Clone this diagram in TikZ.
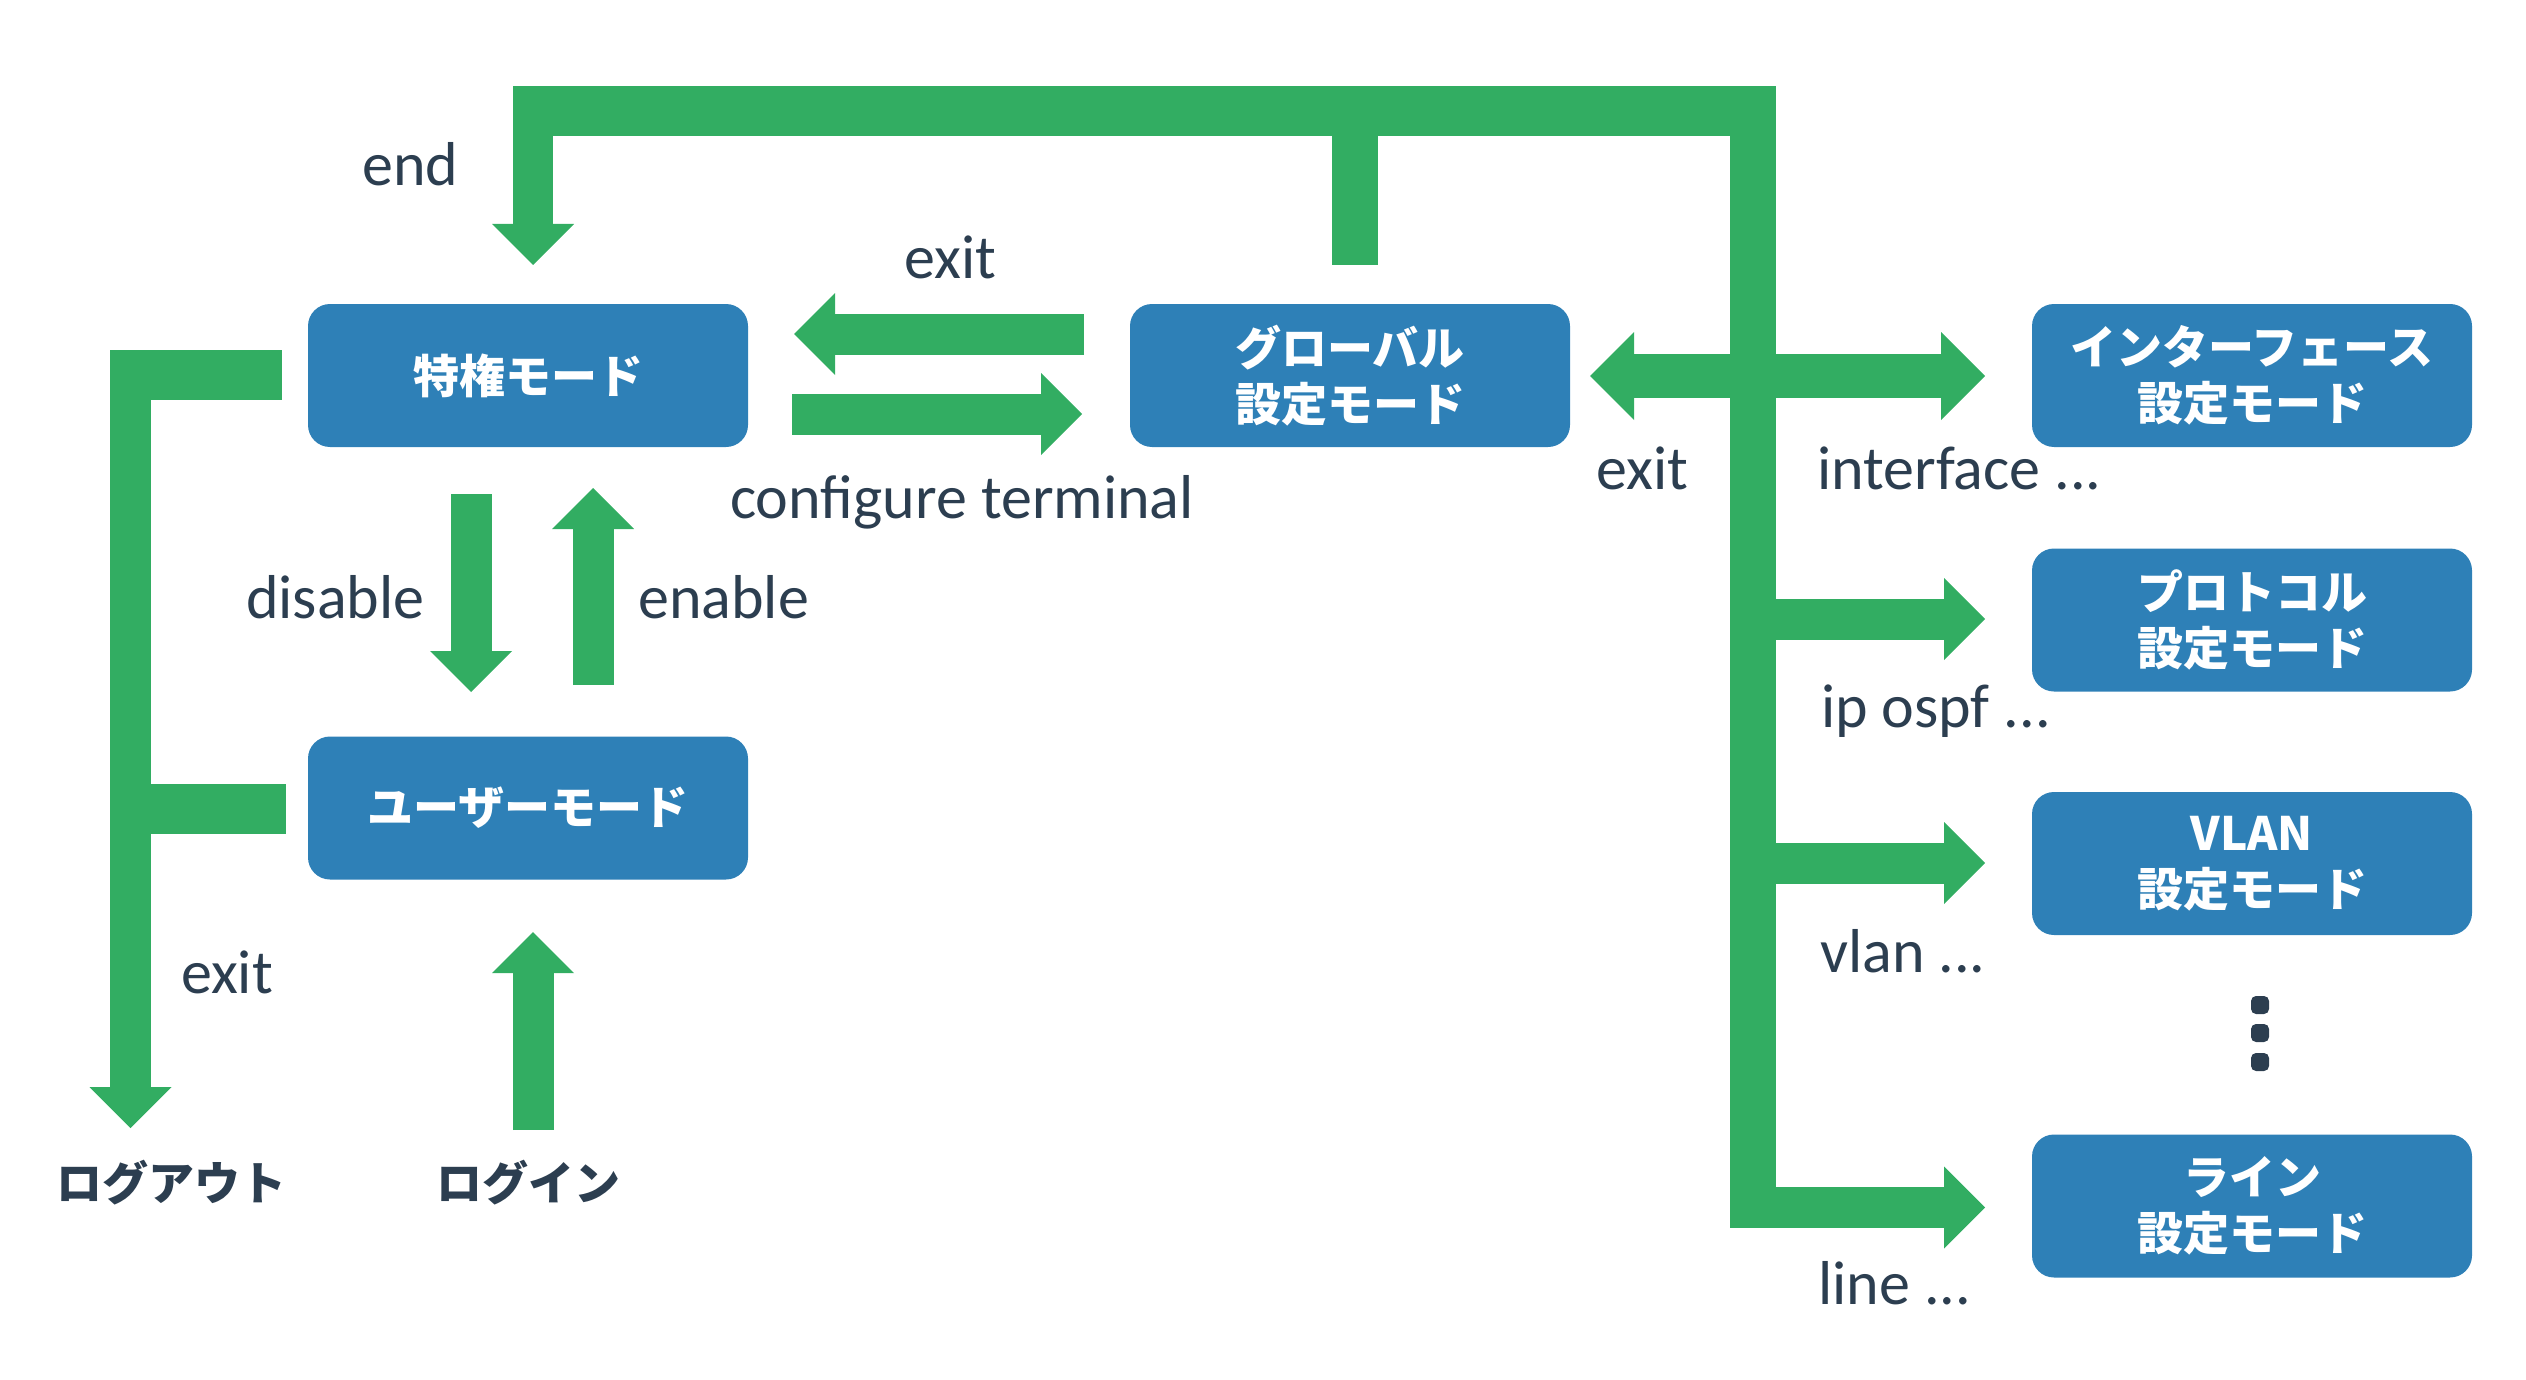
\documentclass[tikz,border=0pt]{standalone}
\usepackage{fontspec}
\setmainfont{Carlito}
\newfontfamily\jp{Noto Sans CJK JP}
\usetikzlibrary{arrows.meta}
\definecolor{grn}{RGB}{50,173,98}
\definecolor{blu}{RGB}{46,128,183}
\definecolor{txt}{RGB}{44,62,80}
\begin{document}
\begin{tikzpicture}[x=1pt,y=-1pt,
  modebox/.style={fill=blu, rounded corners=22pt, minimum width=440pt, minimum height=143pt,
    inner sep=0pt, text=white, align=center, font=\jp\bfseries\fontsize{46}{56}\selectfont},
  cmd/.style={anchor=base west, inner sep=0pt, text=txt, font=\fontsize{62}{74}\selectfont},
  jlabel/.style={inner sep=0pt, text=txt, font=\jp\bfseries\fontsize{46}{56}\selectfont},
  flow/.style={draw=grn, line width=41pt, -{Triangle[length=41pt,width=82pt,line width=0pt]}},
  dflow/.style={draw=grn, line width=44pt, {Triangle[length=44pt,width=88pt,line width=0pt]}-{Triangle[length=44pt,width=88pt,line width=0pt]}},
  bar/.style={fill=grn},
  dot/.style={fill=txt, rounded corners=5pt},
]
\useasboundingbox (0,0) rectangle (2526,1380);

% mode boxes
\node[modebox] (priv) at (528,375.5) {特権モード};
\node[modebox] (user) at (528,808) {ユーザーモード};
\node[modebox] (glob) at (1350,375.5) {グローバル\\設定モード};
\node[modebox] (intf) at (2252,375.5) {インターフェース\\設定モード};
\node[modebox] (prot) at (2252,620) {プロトコル\\設定モード};
\node[modebox] (vlanm) at (2252,863.5) {VLAN\\設定モード};
\node[modebox] (linem) at (2252,1206) {ライン\\設定モード};

% coordinates
\coordinate (exS) at (1084,334);   \coordinate (exE) at (794,334);
\coordinate (ctS) at (792,414);    \coordinate (ctE) at (1082,414);
\coordinate (dsS) at (471,494);    \coordinate (dsE) at (471,692);
\coordinate (enS) at (593,685);    \coordinate (enE) at (593,488);
\coordinate (liS) at (533,1130);   \coordinate (liE) at (533,932);
\coordinate (edS) at (533,100);    \coordinate (edE) at (533,265);
\coordinate (loS) at (130.5,360);  \coordinate (loE) at (130.5,1128);
\coordinate (gxS) at (1590,376);   \coordinate (gxE) at (1985,376);
\coordinate (prS) at (1760,619);   \coordinate (prE) at (1985,619);
\coordinate (vlS) at (1760,863);   \coordinate (vlE) at (1985,863);
\coordinate (lnS) at (1760,1207.5);\coordinate (lnE) at (1985,1207.5);

% bars
\fill[bar] (513,86) rectangle (1776,136);
\fill[bar] (1332,130) rectangle (1378,265);
\fill[bar] (1730,86) rectangle (1776,1228);
\fill[bar] (110,350) rectangle (282,400);
\fill[bar] (140,784) rectangle (286,834);

% arrows
\draw[flow] (exS) -- (exE);
\draw[flow] (ctS) -- (ctE);
\draw[flow] (dsS) -- (dsE);
\draw[flow] (enS) -- (enE);
\draw[flow] (liS) -- (liE);
\draw[flow, line width=40pt] (edS) -- (edE);
\draw[flow] (loS) -- (loE);
\draw[dflow] (gxS) -- (gxE);
\draw[flow] (prS) -- (prE);
\draw[flow] (vlS) -- (vlE);
\draw[flow] (lnS) -- (lnE);

% command labels
\node[cmd] (lend) at (362,186) {end};
\node[cmd] (lexit1) at (904,279) {exit};
\node[cmd] (lconf) at (730,518) {configure terminal};
\node[cmd] (ldis) at (246,618) {disable};
\node[cmd] (lena) at (638,618) {enable};
\node[cmd] (lexit2) at (181,993) {exit};
\node[cmd] (lexit3) at (1596,489) {exit};
\node[cmd] (lintf) at (1817,489) {interface ...};
\node[cmd] (lospf) at (1821,727) {ip ospf ...};
\node[cmd] (lvlan) at (1820,972) {vlan ...};
\node[cmd] (lline) at (1818,1304) {line ...};

% bottom labels
\node[jlabel] (logout) at (171,1183) {ログアウト};
\node[jlabel] (login) at (528,1183) {ログイン};

% vertical dots
\fill[dot] (2251,996) rectangle (2269,1014);
\fill[dot] (2251,1024) rectangle (2269,1042);
\fill[dot] (2251,1053) rectangle (2269,1071);
\end{tikzpicture}
\end{document}
